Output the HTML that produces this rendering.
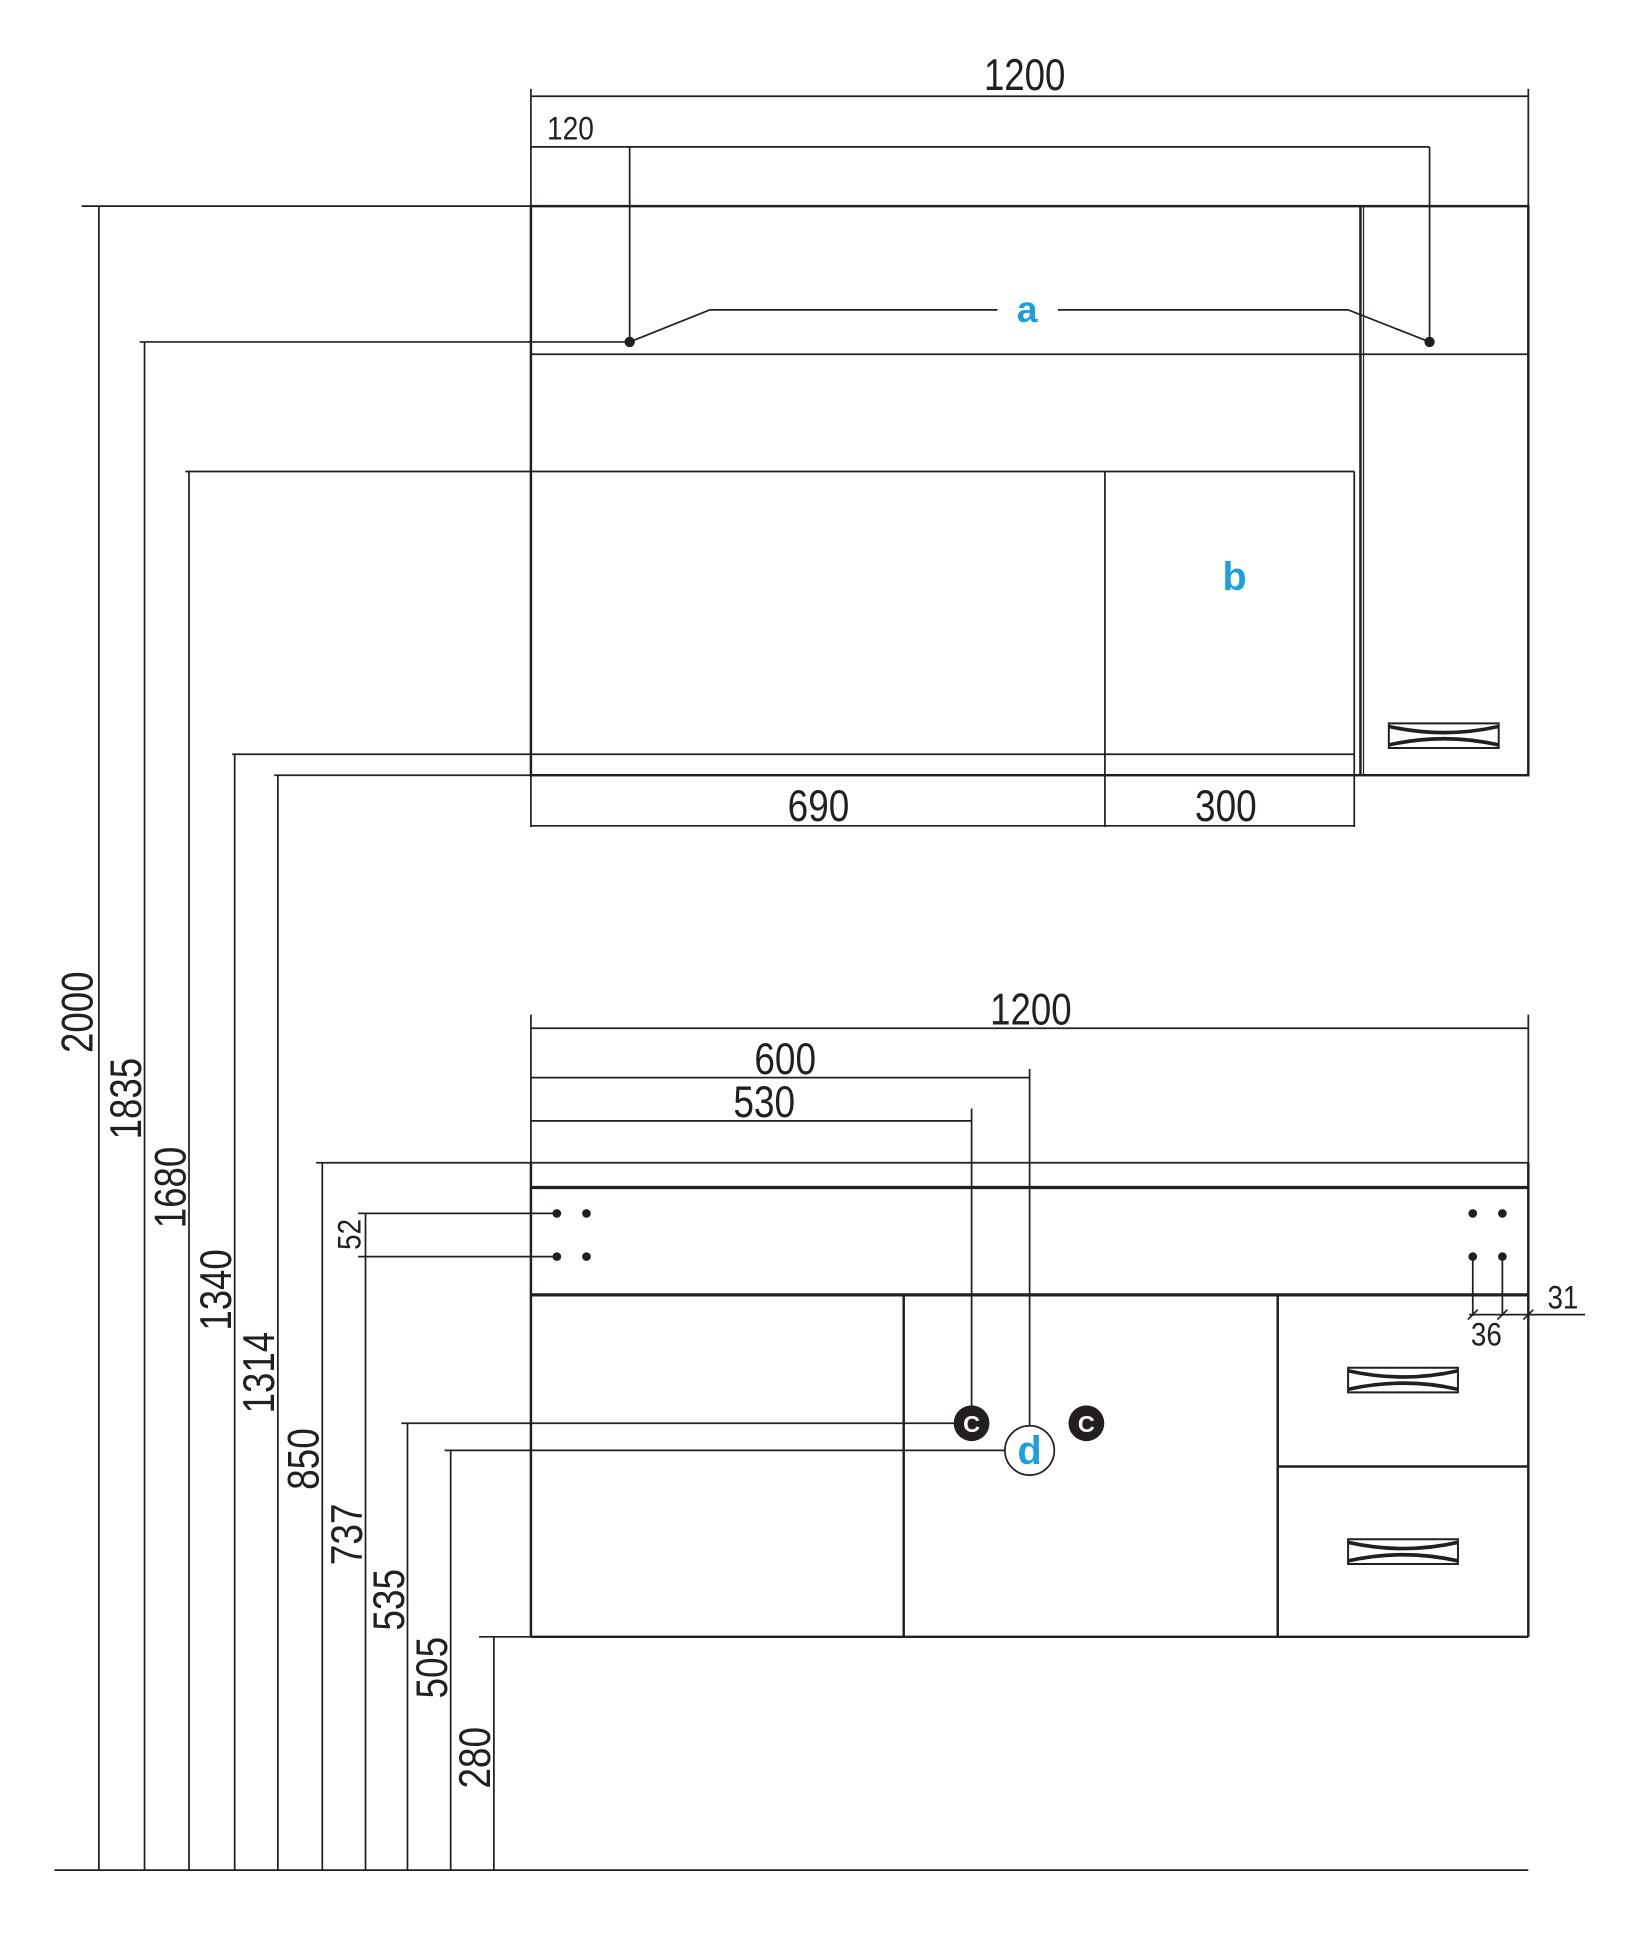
<!DOCTYPE html>
<html><head><meta charset="utf-8"><style>
html,body{margin:0;padding:0;background:#fff;}
svg{display:block;}
text{font-family:"Liberation Sans Narrow","Liberation Sans",sans-serif;fill:#231f20;}
</style></head><body>
<svg width="1642" height="1938" viewBox="0 0 1330 1570" xmlns="http://www.w3.org/2000/svg">
<g stroke="#231f20" stroke-width="1.4" fill="none">
<line x1="430" y1="78" x2="1238" y2="78"/>
<line x1="430" y1="72" x2="430" y2="167"/>
<line x1="1238" y1="72" x2="1238" y2="167"/>
<line x1="430" y1="119" x2="1158" y2="119"/>
<line x1="510" y1="119" x2="510" y2="277"/>
<line x1="1158" y1="119" x2="1158" y2="277"/>
<line x1="66" y1="167" x2="1238" y2="167"/>
<rect x="430" y="167" width="808" height="461" stroke-width="2"/>
<line x1="1102" y1="167" x2="1102" y2="628" stroke-width="2"/>
<line x1="1104.5" y1="167" x2="1104.5" y2="628" stroke-width="1"/>
<line x1="430" y1="287" x2="1238" y2="287"/>
<line x1="113" y1="277" x2="510" y2="277"/>
<polyline points="510,277 575,251 808,251"/>
<polyline points="857,251 1092,251 1158,277"/>
<line x1="150" y1="382" x2="1097" y2="382"/>
<line x1="1097" y1="382" x2="1097" y2="670"/>
<line x1="895" y1="382" x2="895" y2="670"/>
<line x1="188" y1="611" x2="1097" y2="611"/>
<line x1="222" y1="628" x2="430" y2="628"/>
<line x1="430" y1="628" x2="430" y2="670"/>
<line x1="430" y1="669" x2="1097" y2="669"/>
<line x1="430" y1="833" x2="1238" y2="833"/>
<line x1="430" y1="822" x2="430" y2="942"/>
<line x1="1238" y1="822" x2="1238" y2="942"/>
<line x1="430" y1="873" x2="834" y2="873"/>
<line x1="834" y1="866" x2="834" y2="1155"/>
<line x1="430" y1="908" x2="787" y2="908"/>
<line x1="787" y1="898" x2="787" y2="1140"/>
<line x1="256" y1="942" x2="1238" y2="942"/>
<line x1="430" y1="942" x2="430" y2="1326" stroke-width="2"/>
<line x1="1238" y1="942" x2="1238" y2="1326" stroke-width="2"/>
<line x1="430" y1="962" x2="1238" y2="962" stroke-width="2.6"/>
<line x1="430" y1="1049" x2="1238" y2="1049" stroke-width="2.6"/>
<line x1="290" y1="983" x2="451" y2="983"/>
<line x1="290" y1="1018" x2="451" y2="1018"/>
<line x1="296" y1="983" x2="296" y2="1515"/>
<line x1="732" y1="1049" x2="732" y2="1326" stroke-width="2"/>
<line x1="1035" y1="1049" x2="1035" y2="1326" stroke-width="2"/>
<line x1="1035" y1="1188" x2="1238" y2="1188" stroke-width="2"/>
<line x1="430" y1="1326" x2="1238" y2="1326" stroke-width="2"/>
<line x1="388" y1="1326" x2="430" y2="1326"/>
<line x1="1193" y1="1018" x2="1193" y2="1066"/>
<line x1="1217" y1="1018" x2="1217" y2="1066"/>
<line x1="1190" y1="1065" x2="1284" y2="1065"/>
<line x1="1189" y1="1069" x2="1197" y2="1061"/>
<line x1="1213" y1="1069" x2="1221" y2="1061"/>
<line x1="1234" y1="1069" x2="1242" y2="1061"/>
<line x1="325" y1="1153" x2="773" y2="1153"/>
<line x1="360" y1="1175" x2="814" y2="1175"/>
<line x1="44" y1="1515" x2="1238" y2="1515"/>
<line x1="80" y1="167" x2="80" y2="1515"/>
<line x1="117" y1="277" x2="117" y2="1515"/>
<line x1="153" y1="382" x2="153" y2="1515"/>
<line x1="190" y1="611" x2="190" y2="1515"/>
<line x1="225" y1="628" x2="225" y2="1515"/>
<line x1="261" y1="942" x2="261" y2="1515"/>
<line x1="330" y1="1153" x2="330" y2="1515"/>
<line x1="365" y1="1175" x2="365" y2="1515"/>
<line x1="400" y1="1326" x2="400" y2="1515"/>
<g stroke-width="1.6">
<path d="M1125,586 L1214,586 L1214,606 L1125,606 Z"/>
<path d="M1092,1108 L1181,1108 L1181,1128 L1092,1128 Z"/>
<path d="M1092,1247 L1181,1247 L1181,1267 L1092,1267 Z"/>
</g>
</g>
<g fill="#231f20">
<path d="M1125,587 Q1170,597 1214,587 L1214,590 Q1170,600 1125,590Z"/>
<path d="M1125,605 Q1170,595 1214,605 L1214,602 Q1170,592 1125,602Z"/>
<path d="M1092,1109 Q1137,1119 1181,1109 L1181,1112 Q1137,1122 1092,1112Z"/>
<path d="M1092,1127 Q1137,1117 1181,1127 L1181,1124 Q1137,1114 1092,1124Z"/>
<path d="M1092,1248 Q1137,1258 1181,1248 L1181,1251 Q1137,1261 1092,1251Z"/>
<path d="M1092,1266 Q1137,1256 1181,1266 L1181,1263 Q1137,1253 1092,1263Z"/>
<circle cx="510" cy="277" r="4.2"/><circle cx="1158" cy="277" r="4.2"/>
<circle cx="451" cy="983" r="3.5"/><circle cx="475" cy="983" r="3.5"/>
<circle cx="451" cy="1018" r="3.5"/><circle cx="475" cy="1018" r="3.5"/>
<circle cx="1193" cy="983" r="3.5"/><circle cx="1217" cy="983" r="3.5"/>
<circle cx="1193" cy="1018" r="3.5"/><circle cx="1217" cy="1018" r="3.5"/>
<circle cx="787" cy="1153" r="14.5"/><circle cx="880" cy="1153" r="14.5"/>
</g>
<text x="787" y="1160" font-size="19" font-weight="bold" text-anchor="middle" style="fill:#fff">C</text>
<text x="880" y="1160" font-size="19" font-weight="bold" text-anchor="middle" style="fill:#fff">C</text>
<circle cx="834" cy="1175" r="20" fill="#fff" stroke="#231f20" stroke-width="1.4"/>
<text x="834" y="1186" font-size="32" font-weight="bold" text-anchor="middle" font-family="Liberation Sans" style="fill:#1aa0dc">d</text>
<text x="832" y="261" font-size="30" font-weight="bold" text-anchor="middle" font-family="Liberation Sans" style="fill:#1aa0dc">a</text>
<text x="1000" y="478" font-size="32" font-weight="bold" text-anchor="middle" font-family="Liberation Sans" style="fill:#1aa0dc">b</text>
<g font-size="36" text-anchor="middle" lengthAdjust="spacingAndGlyphs">
<text x="830" y="73" textLength="66" lengthAdjust="spacingAndGlyphs">1200</text>
<text x="663" y="665" textLength="50" lengthAdjust="spacingAndGlyphs">690</text>
<text x="993" y="665" textLength="50" lengthAdjust="spacingAndGlyphs">300</text>
<text x="835" y="830" textLength="66" lengthAdjust="spacingAndGlyphs">1200</text>
<text x="636" y="870" textLength="50" lengthAdjust="spacingAndGlyphs">600</text>
<text x="619" y="905" textLength="50" lengthAdjust="spacingAndGlyphs">530</text>
</g>
<text x="462" y="113" font-size="26" text-anchor="middle" textLength="38" lengthAdjust="spacingAndGlyphs">120</text>
<text x="1266" y="1060" font-size="26" text-anchor="middle" textLength="25" lengthAdjust="spacingAndGlyphs">31</text>
<text x="1204" y="1090" font-size="26" text-anchor="middle" textLength="25" lengthAdjust="spacingAndGlyphs">36</text>
<g font-size="36" text-anchor="middle">
<text transform="translate(75,820) rotate(-90)" textLength="66" lengthAdjust="spacingAndGlyphs">2000</text>
<text transform="translate(114,890) rotate(-90)" textLength="66" lengthAdjust="spacingAndGlyphs">1835</text>
<text transform="translate(150,962) rotate(-90)" textLength="66" lengthAdjust="spacingAndGlyphs">1680</text>
<text transform="translate(187,1045) rotate(-90)" textLength="66" lengthAdjust="spacingAndGlyphs">1340</text>
<text transform="translate(222,1112) rotate(-90)" textLength="66" lengthAdjust="spacingAndGlyphs">1314</text>
<text transform="translate(258,1182) rotate(-90)" textLength="50" lengthAdjust="spacingAndGlyphs">850</text>
<text transform="translate(293,1243) rotate(-90)" textLength="50" lengthAdjust="spacingAndGlyphs">737</text>
<text transform="translate(327,1296) rotate(-90)" textLength="50" lengthAdjust="spacingAndGlyphs">535</text>
<text transform="translate(362,1351) rotate(-90)" textLength="50" lengthAdjust="spacingAndGlyphs">505</text>
<text transform="translate(397,1424) rotate(-90)" textLength="50" lengthAdjust="spacingAndGlyphs">280</text>
</g>
<text transform="translate(292,1000) rotate(-90)" font-size="26" text-anchor="middle" textLength="25" lengthAdjust="spacingAndGlyphs">52</text>
</svg>
</body></html>
